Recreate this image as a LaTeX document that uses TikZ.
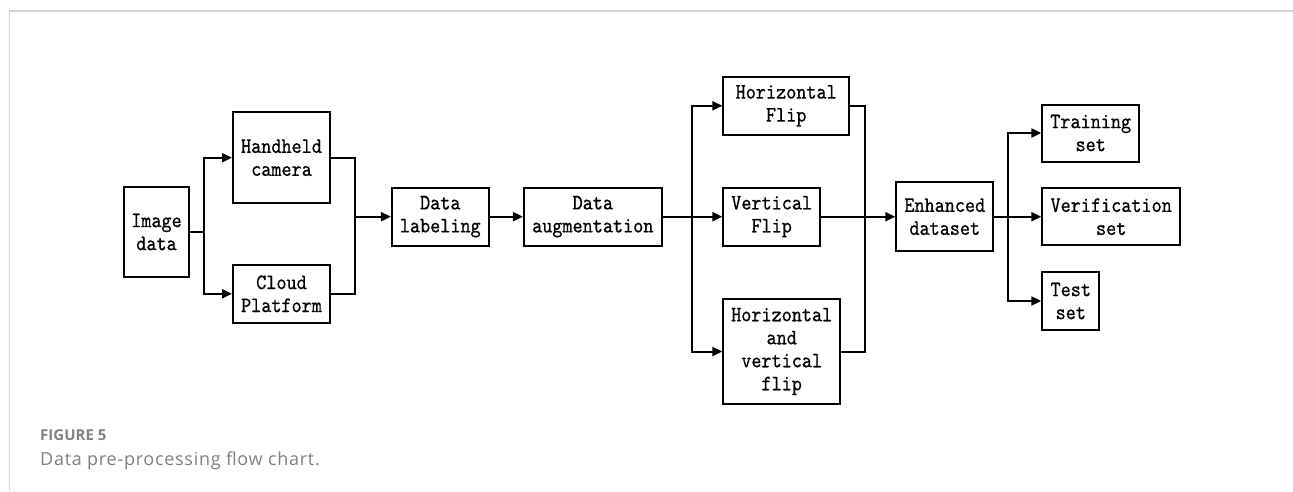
\documentclass[tikz,border=0pt]{standalone}
\usepackage{fontspec}
\usetikzlibrary{arrows.meta}
\newfontfamily\boxfont{lmmono10-regular.otf}[FakeStretch=0.875,FakeBold=0.6]
\newfontfamily\capfont{Open Sans}
\newfontfamily\capwidefont{Open Sans}[LetterSpace=4]
\definecolor{framegray}{RGB}{212,212,212}
\definecolor{figgray}{RGB}{130,130,130}
\definecolor{capgray}{RGB}{128,128,128}
\tikzset{
  box/.style={draw=black, line width=2pt, inner sep=0pt, align=center,
    font=\boxfont\fontsize{22}{23}\selectfont},
  link/.style={line width=2pt, line join=miter},
  arr/.style={link, -{Triangle[length=10pt,width=9pt]}}
}
\begin{document}
\begin{tikzpicture}[x=1pt,y=-1pt]
\useasboundingbox (0,0) rectangle (1293,491);
% frame
\draw[framegray, line width=1.5pt] (9.5,491) -- (9.5,11) -- (1293,11);
% boxes
\node[box, minimum width=65pt, minimum height=90pt] (img) at (156.5,232) {Image\\data};
\node[box, minimum width=97pt, minimum height=90.7pt] (hand) at (281.5,157.7) {Handheld\\camera};
\node[box, minimum width=97pt, minimum height=57.7pt] (cloud) at (281.5,293.8) {Cloud\\Platform};
\node[box, minimum width=96.7pt, minimum height=58pt] (label) at (440.3,216.7) {Data\\labeling};
\node[box, minimum width=137.7pt, minimum height=58pt] (aug) at (592.8,216.7) {Data\\augmentation};
\node[box, minimum width=125.7pt, minimum height=57.6pt] (hflip) at (786.2,105.8) {Horizontal\\Flip};
\node[box, minimum width=96.7pt, minimum height=58pt] (vflip) at (771.7,216.7) {Vertical\\Flip};
\node[box, minimum width=116.7pt, minimum height=105.3pt] (hvflip) at (781.7,351.5) {Horizontal\\and\\vertical\\flip};
\node[box, minimum width=97pt, minimum height=69.4pt] (enh) at (944.8,216.7) {Enhanced\\dataset};
\node[box, minimum width=96.7pt, minimum height=57pt] (train) at (1090.7,133) {Training\\set};
\node[box, minimum width=137.7pt, minimum height=56.7pt] (verif) at (1111.2,216.7) {Verification\\set};
\node[box, minimum width=57pt, minimum height=58.3pt] (test) at (1070.8,301) {Test\\set};
% junction coordinates
\coordinate (j1) at (204.3,232);
\coordinate (m1) at (354.7,216.7);
\coordinate (j2) at (692.3,216.7);
\coordinate (m2) at (864.7,216.7);
\coordinate (j3) at (1008.3,216.7);
% connectors
\draw[link] (img.east) -- (j1);
\draw[arr] (j1) |- (hand.west);
\draw[arr] (j1) |- (cloud.west);
\draw[link] (hand.east) -| (m1);
\draw[link] (cloud.east) -| (m1);
\draw[arr] (m1) -- (label.west);
\draw[arr] (label.east) -- (aug.west);
\draw[link] (aug.east) -- (j2);
\draw[arr] (j2) |- (hflip.west);
\draw[arr] (j2) -- (vflip.west);
\draw[arr] (j2) |- (hvflip.west);
\draw[link] (hflip.east) -| (m2);
\draw[link] (hvflip.east) -| (m2);
\draw[link] (vflip.east) -- (m2);
\draw[arr] (m2) -- (enh.west);
\draw[link] (enh.east) -- (j3);
\draw[arr] (j3) |- (train.west);
\draw[arr] (j3) -- (verif.west);
\draw[arr] (j3) |- (test.west);
% caption
\node[anchor=base west, inner sep=0pt, text=figgray, font=\capfont\bfseries\fontsize{15}{17}\selectfont] (fig) at (40,440) {FIGURE 5};
\node[anchor=base west, inner sep=0pt, text=capgray, font=\capwidefont\fontsize{18}{21}\selectfont] (cap) at (40,465) {Data pre-processing flow chart.};
\end{tikzpicture}
\end{document}
